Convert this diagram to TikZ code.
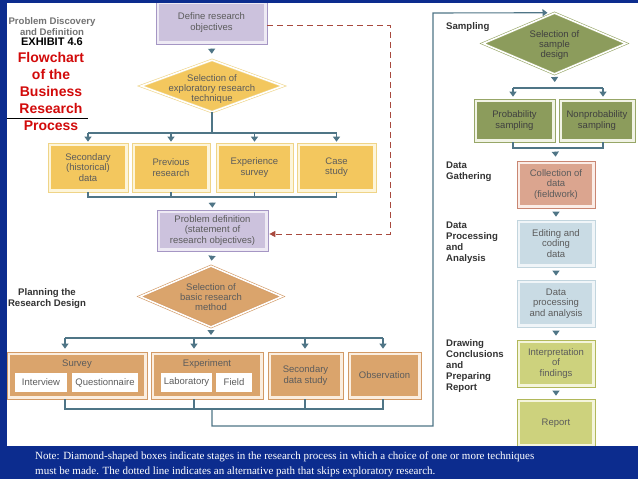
\documentclass[tikz,border=0pt]{standalone}
\usepackage{fontspec}
\setmainfont{Liberation Sans}
\newfontfamily\notefont{Liberation Serif}
\usetikzlibrary{shapes.geometric,arrows.meta}
\definecolor{bgblue}{HTML}{0C2C8E}
\definecolor{lc}{HTML}{4F7586}
\definecolor{tx}{HTML}{5C5C5C}
\definecolor{lbl}{HTML}{333333}
\definecolor{dsh}{HTML}{A8493E}
\definecolor{purB}{HTML}{A596C4}\definecolor{purL}{HTML}{EEEAF4}\definecolor{purF}{HTML}{CCC2DD}
\definecolor{gldB}{HTML}{EFD487}\definecolor{gldL}{HTML}{FDF5DA}\definecolor{gldF}{HTML}{F3C75E}
\definecolor{orgB}{HTML}{D29A66}\definecolor{orgL}{HTML}{FBEEE0}\definecolor{orgF}{HTML}{DAA46C}
\definecolor{grnB}{HTML}{97A667}\definecolor{grnL}{HTML}{F1F3E5}\definecolor{grnF}{HTML}{8C9C5C}
\definecolor{salB}{HTML}{C98672}\definecolor{salL}{HTML}{FBEDE7}\definecolor{salF}{HTML}{DBA58F}
\definecolor{bluB}{HTML}{C2D5DE}\definecolor{bluL}{HTML}{F0F5F8}\definecolor{bluF}{HTML}{C9DBE4}
\definecolor{ygB}{HTML}{B1B85A}\definecolor{ygL}{HTML}{F4F5DC}\definecolor{ygF}{HTML}{CDD27D}
\newcommand\bxf{\fontsize{9.5}{10.3}\selectfont}
\newcommand\lblf{\fontsize{9.6}{11}\selectfont\bfseries}
\begin{document}
\begin{tikzpicture}[x=1pt,y=-1pt,
  bx/.style n args={3}{rectangle, draw=#1, line width=0.7pt, fill=#2, inner sep=0pt,
    align=center, font=\bxf, text=tx,
    path picture={\fill[#3] ([shift={(3pt,-3pt)}]path picture bounding box.north west)
      rectangle ([shift={(-3pt,3pt)}]path picture bounding box.south east);}},
  dia/.style 2 args={diamond, draw=#1, line width=0.6pt, double=white, double distance=1.6pt,
    fill=#2, inner sep=0pt},
  dtx/.style={align=center, font=\bxf, text=tx, inner sep=0pt},
  sub/.style={rectangle, fill=white, inner sep=0pt, font=\bxf, text=tx, minimum height=19pt},
  lab/.style={align=left, font=\lblf, text=lbl, inner sep=0pt, anchor=west},
  conn/.style={draw=lc, line width=1.1pt},
  tip/.style={-{Triangle[width=7pt,length=5pt]}},
  dline/.style={draw=dsh, line width=1pt, dash pattern=on 6pt off 4pt, -{Triangle[width=6pt,length=6pt]}}
]
\useasboundingbox (0,0) rectangle (638,479);
\fill[white] (0,0) rectangle (638,479);

% ---------- left column ----------
\node[bx={purB}{purL}{purF}, minimum width=111pt, minimum height=43pt] (def) at (211.5,22.5) {Define research\\objectives};
\node[dia={gldB}{gldF}, minimum width=142pt, minimum height=52pt] (d1) at (212,86) {};
\node[dtx] (d1t) at (212,89) {Selection of\\exploratory research\\technique};

\node[bx={gldB}{gldL}{gldF}, minimum width=80pt, minimum height=49pt] (s1) at (88,167.5) {Secondary\\(historical)\\data};
\node[bx={gldB}{gldL}{gldF}, minimum width=78pt, minimum height=49pt] (s2) at (171,167.5) {Previous\\research};
\node[bx={gldB}{gldL}{gldF}, minimum width=77pt, minimum height=49pt] (s3) at (254.5,167.5) {Experience\\survey};
\node[bx={gldB}{gldL}{gldF}, minimum width=79pt, minimum height=49pt] (s4) at (336.5,167.5) {Case\\study};

\node[bx={purB}{purL}{purF}, minimum width=111pt, minimum height=41pt] (pdef) at (212.5,230.5) {Problem definition\\(statement of\\research objectives)};

\node[dia={orgB}{orgF}, minimum width=142pt, minimum height=61pt] (d2) at (211,296.5) {};
\node[dtx] (d2t) at (211,297) {Selection of\\basic research\\method};

\node[bx={orgB}{orgL}{orgF}, minimum width=140pt, minimum height=47pt] (sv) at (77,375.5) {};
\node[dtx] (svt) at (77,364) {Survey};
\node[sub, minimum width=52pt] (iv) at (41,382.5) {Interview};
\node[sub, minimum width=66pt] (qu) at (105,382.5) {Questionnaire};
\node[bx={orgB}{orgL}{orgF}, minimum width=112pt, minimum height=47pt] (ex) at (207,375.5) {};
\node[dtx] (ext) at (207,364) {Experiment};
\node[sub, minimum width=51pt] (lb) at (186.5,382.5) {Laboratory};
\node[sub, minimum width=36pt] (fd) at (234,382.5) {Field};
\node[bx={orgB}{orgL}{orgF}, minimum width=75pt, minimum height=47pt] (sd) at (305.5,375.5) {Secondary\\data study};
\node[bx={orgB}{orgL}{orgF}, minimum width=73pt, minimum height=47pt] (ob) at (384.5,375.5) {Observation};

% ---------- right column ----------
\node[dia={grnB}{grnF}, minimum width=143pt, minimum height=61pt] (ds) at (554.5,43.5) {};
\node[dtx, text=black!75] (dst) at (554.5,45) {Selection of\\sample\\design};
\node[bx={grnB}{grnL}{grnF}, minimum width=81pt, minimum height=43pt, text=black!75] (pr) at (514.5,120.5) {Probability\\sampling};
\node[bx={grnB}{grnL}{grnF}, minimum width=76pt, minimum height=43pt, text=black!75] (np) at (597,120.5) {Nonprobability\\sampling};
\node[bx={salB}{salL}{salF}, minimum width=78pt, minimum height=47pt] (co) at (556,184.5) {Collection of\\data\\(fieldwork)};
\node[bx={bluB}{bluL}{bluF}, minimum width=78pt, minimum height=47pt] (ed) at (556,243.5) {Editing and\\coding\\data};
\node[bx={bluB}{bluL}{bluF}, minimum width=78pt, minimum height=47pt] (dp) at (556,303.5) {Data\\processing\\and analysis};
\node[bx={ygB}{ygL}{ygF}, minimum width=78pt, minimum height=47pt] (ip) at (556,363.5) {Interpretation\\of\\findings};
\node[bx={ygB}{ygL}{ygF}, minimum width=78pt, minimum height=48pt] (rp) at (556,423) {Report};

% ---------- labels ----------
\node[lab, align=center, anchor=center, text=black!55] (pdd) at (52,27) {Problem Discovery\\and Definition};
\node[font=\fontsize{11}{12}\selectfont\bfseries, text=black, inner sep=0pt] (exh) at (52,42) {EXHIBIT 4.6};
\node[font=\fontsize{14}{17}\selectfont\bfseries, text={rgb,255:red,210;green,10;blue,10}, align=center, inner sep=0pt] (ttl) at (51,91) {Flowchart\\of the\\Business\\Research\\Process};
\draw[black, line width=0.7pt] (7,118) -- (88,118);
\node[lab, align=center, anchor=center] (plan) at (47,298.5) {Planning the\\Research Design};
\node[lab] (smp) at (446,27) {Sampling};
\node[lab] (dg) at (446,171.5) {Data\\Gathering};
\node[lab] (dpa) at (446,243) {Data\\Processing\\and\\Analysis};
\node[lab] (dcp) at (446,366.5) {Drawing\\Conclusions\\and\\Preparing\\Report};

% ---------- connectors, left ----------
\draw[conn,tip,shorten <=5pt,shorten >=6pt] (def.south) -- (d1.north);
\coordinate (j1) at (212,133);
\draw[conn] (d1.south) -- (j1);
\draw[conn] (s1.north |- j1) -- (s4.north |- j1);
\foreach \n in {s1,s2,s3,s4} \draw[conn,tip,shorten >=1pt] (\n.north |- j1) -- (\n.north);
\coordinate (j2) at (212,197);
\draw[conn] (s1.south) |- (j2) -| (s4.south);
\draw[conn] (s2.south) -- (s2.south |- j2);
\draw[conn] (s3.south) -- (s3.south |- j2);
\draw[conn,tip,shorten <=6pt,shorten >=2pt] (j2) -- (pdef.north);
\draw[conn,tip,shorten <=5pt,shorten >=5pt] (pdef.south) -- (d2.north);

\coordinate (dc1) at (390,25);
\coordinate (dc2) at (390,234);
\draw[dline,shorten >=1pt] (def.east |- dc1) -- (dc1) -- (dc2) -- (pdef.east |- dc2);

\coordinate (k0) at (211,338);
\coordinate (k1) at (65,338);\coordinate (k2) at (194,338);\coordinate (k3) at (305,338);\coordinate (k4) at (383,338);
\draw[conn,tip,shorten <=3pt,shorten >=3pt] (d2.south) -- (k0);
\draw[conn] (k1) -- (k4);
\draw[conn,tip,shorten >=3pt] (k1) -- (k1 |- sv.north);
\draw[conn,tip,shorten >=3pt] (k2) -- (k2 |- ex.north);
\draw[conn,tip,shorten >=3pt] (k3) -- (k3 |- sd.north);
\draw[conn,tip,shorten >=3pt] (k4) -- (k4 |- ob.north);
\coordinate (m1) at (65,409);\coordinate (m2) at (194,409);\coordinate (m3) at (305,409);\coordinate (m4) at (383,409);
\draw[conn] (k1 |- sv.south) -- (m1) -- (m4) -- (k4 |- ob.south);
\draw[conn] (k2 |- ex.south) -- (m2);
\draw[conn] (k3 |- sd.south) -- (m3);
\coordinate (m0) at (212,409);\coordinate (r1) at (212,426);\coordinate (r2) at (433,426);\coordinate (r3) at (433,13);
\draw[conn,tip,shorten >=7pt] (m0) -- (r1) -- (r2) -- (r3) -- (ds.north);

% ---------- connectors, right ----------
\coordinate (jS) at (555,88);
\coordinate (jP) at (513,88);\coordinate (jN) at (603,88);
\draw[conn,tip,shorten <=3pt,shorten >=6pt] (ds.south) -- (jS);
\draw[conn] (jP) -- (jN);
\draw[conn,tip,shorten >=2pt] (jP) -- (jP |- pr.north);
\draw[conn,tip,shorten >=2pt] (jN) -- (jN |- np.north);
\coordinate (jB) at (555,148);
\draw[conn] (jP |- pr.south) |- (jB) -| (jN |- np.south);
\draw[conn,tip,shorten <=4pt,shorten >=4pt] (jB) -- (co.north);
\draw[conn,tip,shorten <=4pt,shorten >=3pt] (co.south) -- (ed.north);
\draw[conn,tip,shorten <=4pt,shorten >=4pt] (ed.south) -- (dp.north);
\draw[conn,tip,shorten <=4pt,shorten >=4pt] (dp.south) -- (ip.north);
\draw[conn,tip,shorten <=4pt,shorten >=3pt] (ip.south) -- (rp.north);

% ---------- frame ----------
\fill[bgblue] (0,0) rectangle (638,3);
\fill[bgblue] (0,0) rectangle (7,479);
\fill[bgblue] (0,446) rectangle (638,479);
\node[anchor=west, text=white, font=\notefont\fontsize{11}{15}\selectfont, align=left, inner sep=0pt] (note) at (35,464.5)
  {Note: Diamond-shaped boxes indicate stages in the research process in which a choice of one or more techniques\\must be made. The dotted line indicates an alternative path that skips exploratory research.};
\end{tikzpicture}
\end{document}
